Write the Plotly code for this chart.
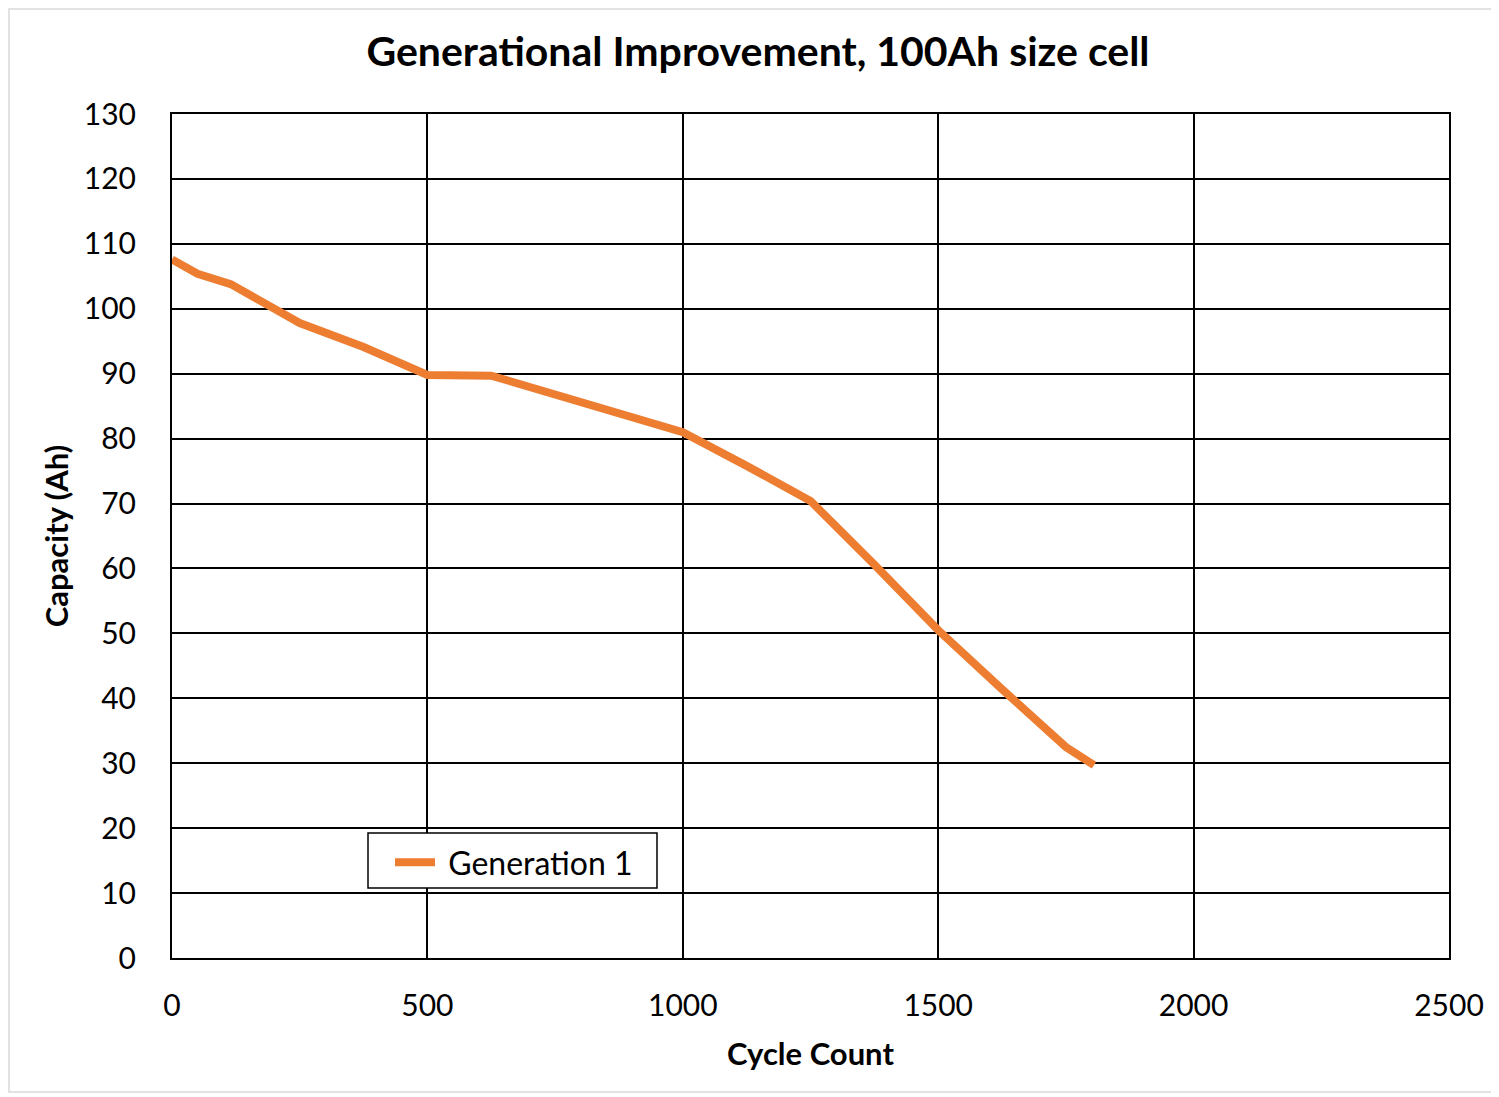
import plotly.graph_objects as go

cycles = [0, 50, 115, 250, 375, 500, 625, 750, 1000, 1125, 1250, 1375, 1500, 1625, 1750, 1805]
capacity = [107.6, 105.4, 103.8, 97.8, 94.1, 89.8, 89.7, 86.8, 81.0, 75.8, 70.4, 60.6, 50.5, 41.4, 32.5, 29.7]
series_name = "Generation 1"

FONT = "Lato, 'Open Sans', sans-serif"

OFF = 8  # page body margin
W, H = 1491, 1089
L = 171 - OFF + 1
T = 114 - OFF
R = W - (1449 - OFF)
B = H - (958 - OFF)
pw, ph = W - L - R, H - T - B


def px_x(p):
    return (p - OFF - L) / pw


def px_y(p):
    return (H - B - (p - OFF)) / ph


fig = go.Figure()
fig.add_trace(go.Scatter(
    x=cycles, y=capacity, mode="lines", name="\u00a0" + series_name,
    line=dict(color="#ED7D31", width=8),
))

fig.update_layout(
    width=W, height=H,
    margin=dict(l=L, r=R, t=T, b=B, autoexpand=False),
    paper_bgcolor="white", plot_bgcolor="white",
    font=dict(family=FONT, color="black", size=30),
    title=dict(text="<b>Generational Improvement, 100Ah size cell</b>",
               x=(758 - OFF) / W, xanchor="center",
               y=1 - (52 - OFF) / H, yanchor="middle",
               font=dict(size=41, family=FONT)),
    showlegend=True,
    legend=dict(x=px_x(390), y=px_y(835), xanchor="left", yanchor="top",
                bgcolor="rgba(0,0,0,0)", borderwidth=0,
                font=dict(size=32, family=FONT), itemwidth=40),
    xaxis=dict(range=[0, 2500], tickvals=[0, 500, 1000, 1500, 2000, 2500],
               showgrid=True, gridcolor="black", gridwidth=1.8,
               showline=True, linecolor="black", linewidth=2, mirror=True,
               zeroline=False, ticks="", ticklabelstandoff=20, automargin=False,
               tickfont=dict(size=30),
               title=dict(text="<b>Cycle Count</b>", font=dict(size=31), standoff=22)),
    yaxis=dict(range=[0, 130], dtick=10,
               showgrid=True, gridcolor="black", gridwidth=1.8,
               showline=True, linecolor="black", linewidth=2, mirror=True,
               zeroline=False, ticks="", ticklabelstandoff=28, automargin=False,
               tickfont=dict(size=30),
               title=dict(text="<b>Capacity (Ah)</b>", font=dict(size=31), standoff=6)),
    shapes=[
        dict(type="rect", xref="paper", yref="paper",
             x0=px_x(9), x1=px_x(1492), y0=px_y(1092), y1=px_y(9),
             line=dict(color="#d9d9d9", width=1.5), layer="below"),
        dict(type="rect", xref="paper", yref="paper",
             x0=px_x(368), x1=px_x(657), y0=px_y(888), y1=px_y(833),
             line=dict(color="black", width=1.5), fillcolor="white", layer="above"),
    ],
)

fig.write_html("out.html")
